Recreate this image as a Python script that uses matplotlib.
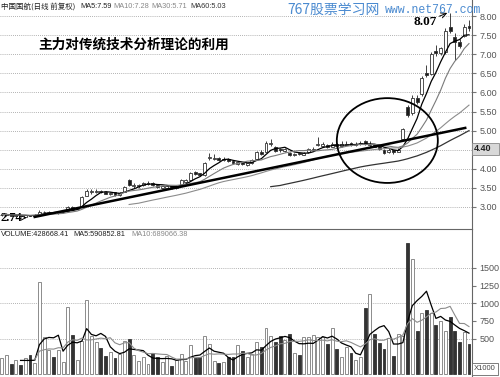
import numpy as np
import pandas as pd
import matplotlib
matplotlib.use("Agg")
import matplotlib.pyplot as plt
from matplotlib.patches import Ellipse, Rectangle

# 日线数据
opens = [2.78, 2.79, 2.81, 2.77, 2.79, 2.75, 2.79, 2.77, 2.80, 2.86,
         2.85, 2.87, 2.84, 2.86, 2.90, 3.00, 2.95, 3.00, 3.30, 3.38,
         3.38, 3.43, 3.40, 3.33, 3.38, 3.32, 3.40, 3.70, 3.55, 3.54,
         3.58, 3.60, 3.64, 3.58, 3.50, 3.50, 3.55, 3.50, 3.58, 3.66,
         3.70, 3.92, 3.88, 3.84, 4.28, 4.26, 4.28, 4.22, 4.26, 4.20,
         4.12, 4.17, 4.10, 4.14, 4.26, 4.43, 4.45, 4.66, 4.58, 4.52,
         4.46, 4.42, 4.35, 4.42, 4.37, 4.44, 4.48, 4.62, 4.60, 4.62,
         4.58, 4.66, 4.60, 4.63, 4.68, 4.62, 4.64, 4.72, 4.62, 4.64,
         4.60, 4.50, 4.44, 4.48, 4.44, 4.78, 5.62, 5.45, 5.86, 5.95,
         6.52, 6.48, 7.08, 7.02, 7.05, 7.70, 7.45, 7.32, 7.48, 7.74]
highs = [2.82, 2.83, 2.82, 2.80, 2.80, 2.79, 2.80, 2.81, 2.92, 2.90,
         2.89, 2.88, 2.88, 2.90, 3.02, 3.02, 3.00, 3.28, 3.48, 3.46,
         3.47, 3.45, 3.42, 3.40, 3.40, 3.39, 3.55, 3.73, 3.62, 3.60,
         3.66, 3.68, 3.66, 3.60, 3.56, 3.57, 3.56, 3.58, 3.72, 3.74,
         3.92, 3.95, 3.90, 4.18, 4.42, 4.38, 4.30, 4.30, 4.28, 4.22,
         4.20, 4.19, 4.16, 4.26, 4.46, 4.50, 4.72, 4.78, 4.60, 4.55,
         4.55, 4.44, 4.42, 4.44, 4.44, 4.54, 4.56, 4.84, 4.70, 4.64,
         4.70, 4.68, 4.72, 4.74, 4.70, 4.70, 4.74, 4.76, 4.72, 4.66,
         4.62, 4.52, 4.54, 4.50, 4.54, 5.08, 5.66, 5.92, 5.92, 6.42,
         6.72, 7.05, 7.25, 7.20, 7.68, 8.07, 7.55, 7.40, 7.78, 7.90]
lows = [2.76, 2.77, 2.76, 2.75, 2.75, 2.74, 2.76, 2.76, 2.79, 2.83,
        2.83, 2.83, 2.82, 2.84, 2.88, 2.93, 2.94, 2.99, 3.28, 3.34,
        3.36, 3.36, 3.33, 3.31, 3.30, 3.30, 3.38, 3.56, 3.50, 3.50,
        3.55, 3.58, 3.56, 3.50, 3.48, 3.48, 3.48, 3.48, 3.56, 3.63,
        3.68, 3.84, 3.80, 3.82, 4.22, 4.22, 4.20, 4.20, 4.18, 4.12,
        4.10, 4.10, 4.08, 4.12, 4.25, 4.36, 4.43, 4.60, 4.44, 4.45,
        4.44, 4.34, 4.33, 4.36, 4.35, 4.42, 4.46, 4.60, 4.58, 4.54,
        4.56, 4.58, 4.58, 4.62, 4.60, 4.60, 4.62, 4.62, 4.58, 4.56,
        4.50, 4.40, 4.42, 4.40, 4.43, 4.76, 5.36, 5.42, 5.70, 5.90,
        6.40, 6.45, 6.95, 6.98, 7.00, 7.55, 6.85, 7.15, 7.45, 7.62]
closes = [2.80, 2.81, 2.77, 2.79, 2.76, 2.78, 2.77, 2.80, 2.88, 2.88,
          2.87, 2.84, 2.86, 2.88, 3.00, 2.95, 2.98, 3.25, 3.42, 3.42,
          3.43, 3.38, 3.35, 3.37, 3.32, 3.37, 3.52, 3.58, 3.58, 3.57,
          3.63, 3.64, 3.58, 3.52, 3.54, 3.55, 3.50, 3.55, 3.70, 3.70,
          3.88, 3.86, 3.83, 4.15, 4.30, 4.29, 4.22, 4.25, 4.20, 4.15,
          4.17, 4.12, 4.14, 4.23, 4.43, 4.40, 4.68, 4.68, 4.47, 4.48,
          4.51, 4.36, 4.38, 4.38, 4.42, 4.52, 4.53, 4.66, 4.64, 4.57,
          4.64, 4.60, 4.64, 4.66, 4.62, 4.66, 4.68, 4.64, 4.66, 4.58,
          4.53, 4.42, 4.50, 4.44, 4.50, 5.05, 5.42, 5.85, 5.76, 6.38,
          6.45, 7.00, 7.02, 7.15, 7.62, 7.60, 7.32, 7.22, 7.72, 7.68]
# 成交量 (千手)
volumes = [226, 268, 141, 198, 127, 226, 268, 155, 1300, 523,
           339, 240, 339, 170, 946, 551, 198, 466, 1045, 537,
           452, 367, 254, 311, 226, 282, 466, 494, 268, 184,
           240, 141, 297, 240, 170, 254, 113, 198, 282, 184,
           410, 226, 240, 537, 424, 184, 155, 170, 240, 240,
           410, 325, 240, 282, 452, 381, 650, 537, 452, 537,
           480, 565, 297, 268, 523, 523, 551, 523, 523, 424,
           650, 353, 240, 381, 297, 198, 240, 932, 1130, 565,
           438, 353, 508, 254, 565, 537, 1850, 1624, 607, 862,
           904, 862, 692, 749, 607, 805, 607, 452, 593, 429]

price_ticks = [3.0, 3.5, 4.0, 4.5, 5.0, 5.5, 6.0, 6.5, 7.0, 7.5, 8.0]
vol_ticks = [500, 750, 1000, 1250, 1500]
vol_grid = [500, 1000, 1500]

# 趋势线和圈注
trend_x = [7.0, 98.2]
trend_y = [2.74, 5.07]
circle_center = (81.7, 4.74)
circle_size = (21.4, 2.22)

df = pd.DataFrame({"open": opens, "high": highs, "low": lows,
                   "close": closes, "vol": volumes})
df["ma5"] = df["close"].rolling(5, min_periods=1).mean()
df["ma10"] = df["close"].rolling(10, min_periods=1).mean()
df["ma30"] = df["close"].rolling(30, min_periods=28).mean()
df["ma60"] = df["close"].rolling(60, min_periods=58).mean()
df["vma5"] = df["vol"].rolling(5, min_periods=5).mean()
df["vma10"] = df["vol"].rolling(10, min_periods=8).mean()

x = np.arange(len(df))
up = (df["close"] >= df["open"]).values

fig = plt.figure(figsize=(5, 3.77), dpi=100)
W, H = 500, 377
ax = fig.add_axes([0, 1 - 229 / H, 472 / W, 229 / H])
axv = fig.add_axes([0, 0, 472 / W, 1 - 229 / H], sharex=ax)

# K线
ax.vlines(x, df["low"], df["high"], color="#222222", lw=0.6, zorder=2)
body_lo = np.minimum(df["open"], df["close"])
body_h = np.maximum((df["close"] - df["open"]).abs(), 0.012)
ax.bar(x, body_h, bottom=body_lo, width=0.62,
       color=np.where(up, "white", "#1a1a1a"), edgecolor="#333333",
       linewidth=0.6, zorder=3)

ax.plot(x, df["ma5"], color="black", lw=0.9, zorder=4)
ax.plot(x, df["ma10"], color="#7a7a7a", lw=0.8, zorder=4)
ax.plot(x, df["ma30"], color="#8c8c8c", lw=0.8, zorder=4)
ax.plot(x, df["ma60"], color="#333333", lw=0.9, zorder=4)

ax.plot(trend_x, trend_y, color="black", lw=1.8, zorder=5)
ax.add_patch(Ellipse(circle_center, circle_size[0], circle_size[1],
                     fill=False, lw=1.3, ec="black", zorder=6))

ax.set_xlim(-0.36, 99.64)
ax.set_ylim(2.424, 8.419)
ax.yaxis.tick_right()
ax.set_yticks(price_ticks)
# 4.50 被当前价格框盖住
ax.set_yticklabels(["" if v == 4.5 else f"{v:.2f}" for v in price_ticks],
                   family="Liberation Sans")
ax.tick_params(axis="y", direction="out", length=3, color="#777777",
               labelsize=6.5, labelcolor="#555555", pad=2.5)
ax.tick_params(axis="x", bottom=False, labelbottom=False)
for v in price_ticks:
    ax.axhline(v, color="#999999", lw=0.6, ls=(0, (1, 1.5)), zorder=1)
for s in ["left", "top", "bottom"]:
    ax.spines[s].set_visible(False)
ax.spines["right"].set_color("#666666")
ax.spines["right"].set_linewidth(0.8)

ax.annotate("8.07", xy=(94.4, 8.08), xytext=(87.2, 7.84),
            fontsize=9.5, fontweight="bold", family="Liberation Serif",
            va="center", ha="left",
            arrowprops=dict(arrowstyle="->", lw=0.7, color="black",
                            shrinkA=0, shrinkB=0))
ax.annotate("2.74", xy=(5.3, 2.72), xytext=(-0.3, 2.71),
            fontsize=9, fontweight="bold", family="Liberation Serif",
            va="center", ha="left",
            arrowprops=dict(arrowstyle="->", lw=0.7, color="black",
                            shrinkA=0, shrinkB=0))

# 成交量
axv.bar(x, df["vol"], width=0.62, color=np.where(up, "white", "#333333"),
        edgecolor=np.where(up, "#7a7a7a", "#333333"), linewidth=0.6, zorder=3)
axv.plot(x, df["vma5"], color="black", lw=0.9, zorder=4)
axv.plot(x, df["vma10"], color="#8c8c8c", lw=0.8, zorder=4)
for v in vol_grid:
    axv.axhline(v, color="#999999", lw=0.6, ls=(0, (1, 1.5)), zorder=1)
axv.set_ylim(-42, 2048)
axv.yaxis.tick_right()
axv.set_yticks(vol_ticks)
axv.set_yticklabels([str(v) for v in vol_ticks], family="Liberation Sans")
axv.tick_params(axis="y", direction="out", length=3, color="#777777",
                labelsize=6.5, labelcolor="#555555", pad=2.5)
axv.tick_params(axis="x", bottom=False, labelbottom=False)
for s in ["left", "bottom"]:
    axv.spines[s].set_visible(False)
for s in ["right", "top"]:
    axv.spines[s].set_color("#666666")
    axv.spines[s].set_linewidth(0.8)

# 文字
cjk = ["Noto Sans CJK SC", "DejaVu Sans"]
fig.text(0.002, 1 - 7 / H, "中国国航(日线 前复权)", fontsize=5.4, family=cjk,
         va="center", color="#222222")
for label, px, col in [("MA5:7.59", 80, "#222222"), ("MA10:7.28", 113, "#888888"),
                       ("MA30:5.71", 151, "#888888"), ("MA60:5.03", 190, "#333333")]:
    fig.text(px / W, 1 - 7 / H, label, fontsize=5.3, family="Liberation Sans",
             va="center", color=col)

for label, px, col in [("VOLUME:428668.41", 0, "#222222"),
                       ("MA5:590852.81", 72, "#222222"),
                       ("MA10:689066.38", 130, "#888888")]:
    fig.text(px / W + 0.002, 1 - 235 / H, label, fontsize=5.3,
             family="Liberation Sans", va="center", color=col)

fig.text(38 / W, 1 - 45 / H, "主力对传统技术分析理论的利用", fontsize=9.8,
         fontweight="bold", family=cjk, va="center", color="black")

fig.text(287 / W, 1 - 10 / H, "767股票学习网", fontsize=10, family=cjk,
         va="center", color="#4a8ad0")
fig.text(385 / W, 1 - 10 / H, "www.net767.com", fontsize=8.3,
         family="Liberation Mono", va="center", color="#4a8ad0")

fig.patches.append(Rectangle((472 / W, 1 - 155 / H), 27 / W, 12 / H,
                             transform=fig.transFigure, fc="#d8d8d8",
                             ec="#888888", lw=0.6))
fig.text(474 / W, 1 - 149 / H, "4.40", fontsize=6.5, fontweight="bold",
         family="Liberation Sans", va="center", color="#222222")
fig.patches.append(Rectangle((472 / W, 1 - 375 / H), 26 / W, 12 / H,
                             transform=fig.transFigure, fc="white",
                             ec="#666666", lw=0.6))
fig.text(485 / W, 1 - 369 / H, "X1000", fontsize=5.5, ha="center",
         family="Liberation Sans", va="center", color="#444444")

fig.savefig("out.png", dpi=100)
